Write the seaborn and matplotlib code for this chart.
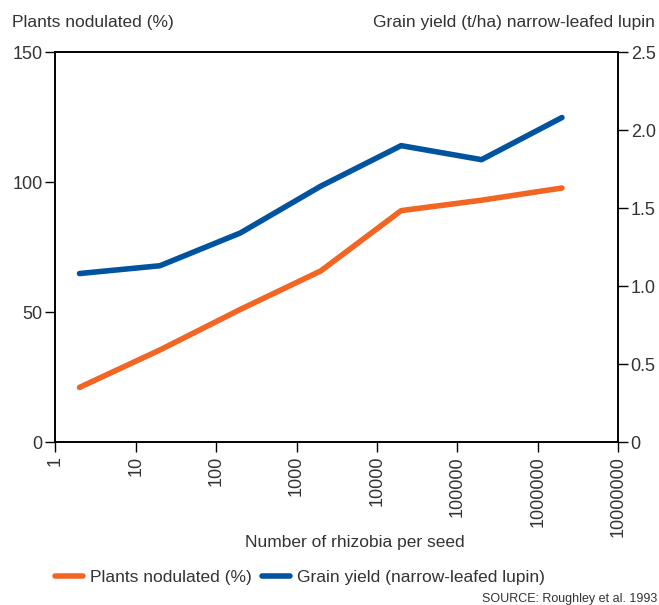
import numpy as np
import pandas as pd
import matplotlib
matplotlib.use("Agg")
import matplotlib.pyplot as plt
import seaborn as sns
from matplotlib.ticker import FixedLocator, FixedFormatter
from matplotlib.lines import Line2D

sns.set_style("white")
plt.rcParams["font.family"] = ["Liberation Sans", "DejaVu Sans"]

# Data
rhizobia = [2, 20, 200, 2000, 20000, 200000, 2000000]
nodulated = [21, 35.4, 51, 65.8, 89, 93, 97.7]
grain_yield = [1.08, 1.13, 1.34, 1.64, 1.90, 1.81, 2.08]
x_ticks = [1, 10, 100, 1000, 10000, 100000, 1000000, 10000000]
x_labels = ["1", "10", "100", "1000", "10000", "100000", "1000000", "10000000"]
left_ticks = [0, 50, 100, 150]
right_ticks = [0, 0.5, 1.0, 1.5, 2.0, 2.5]
right_labels = ["0", "0.5", "1.0", "1.5", "2.0", "2.5"]

df = pd.DataFrame({"rhizobia": rhizobia, "nodulated": nodulated, "grain_yield": grain_yield})

orange = "#F26522"
blue = "#00549F"
text_c = "#333333"
fs = 12.5

fig = plt.figure(figsize=(6.59, 6.05), dpi=100)
ax = fig.add_axes([0.0839, 0.2694, 0.938 - 0.0839, 0.914 - 0.2694])
ax2 = ax.twinx()

sns.lineplot(data=df, x="rhizobia", y="nodulated", ax=ax, color=orange, linewidth=4,
             solid_capstyle="round", legend=False)
sns.lineplot(data=df, x="rhizobia", y="grain_yield", ax=ax2, color=blue, linewidth=4,
             solid_capstyle="round", legend=False)

ax.set_xscale("log")
ax.set_xlim(1, 1e7)
ax.set_ylim(0, 150)
ax2.set_ylim(0, 2.5)
ax.xaxis.set_major_locator(FixedLocator(x_ticks))
ax.xaxis.set_major_formatter(FixedFormatter(x_labels))
ax.xaxis.set_minor_locator(FixedLocator([]))
ax.set_yticks(left_ticks)
ax2.set_yticks(right_ticks)
ax2.set_yticklabels(right_labels)

for a in (ax, ax2):
    for s in a.spines.values():
        s.set_color("black")
        s.set_linewidth(1.2)
    a.set_xlabel("")
    a.set_ylabel("")

ax.tick_params(axis="x", direction="out", length=7, width=1, color="black",
               labelsize=13, labelcolor=text_c, labelrotation=90, pad=3, bottom=True)
ax.tick_params(axis="y", direction="out", length=7, width=1, color="black",
               labelsize=13, labelcolor=text_c, pad=2, left=True)
ax2.tick_params(axis="y", direction="out", length=7, width=1, color="black",
                labelsize=13, labelcolor=text_c, pad=2, right=True)

fig.text(12 / 659, 1 - 22 / 605, "Plants nodulated (%)", fontsize=fs, color=text_c,
         ha="left", va="center")
fig.text(655 / 659, 1 - 22 / 605, "Grain yield (t/ha) narrow-leafed lupin", fontsize=fs,
         color=text_c, ha="right", va="center")
fig.text(355 / 659, 1 - 543 / 605, "Number of rhizobia per seed", fontsize=fs,
         color=text_c, ha="center", va="center")
fig.text(657 / 659, 1 - 599 / 605, "SOURCE: Roughley et al. 1993", fontsize=9,
         color=text_c, ha="right", va="center")

handles = [Line2D([], [], color=orange, linewidth=4, solid_capstyle="round"),
           Line2D([], [], color=blue, linewidth=4, solid_capstyle="round")]
fig.legend(handles, ["Plants nodulated (%)", "Grain yield (narrow-leafed lupin)"],
           loc="center left", bbox_to_anchor=(55 / 659, 1 - 577 / 605), ncol=2,
           frameon=False, fontsize=fs, handlelength=1.6, handletextpad=0.4,
           columnspacing=0.6, labelcolor=text_c, borderaxespad=0, borderpad=0)

fig.savefig("out.png", dpi=100, facecolor="white")
